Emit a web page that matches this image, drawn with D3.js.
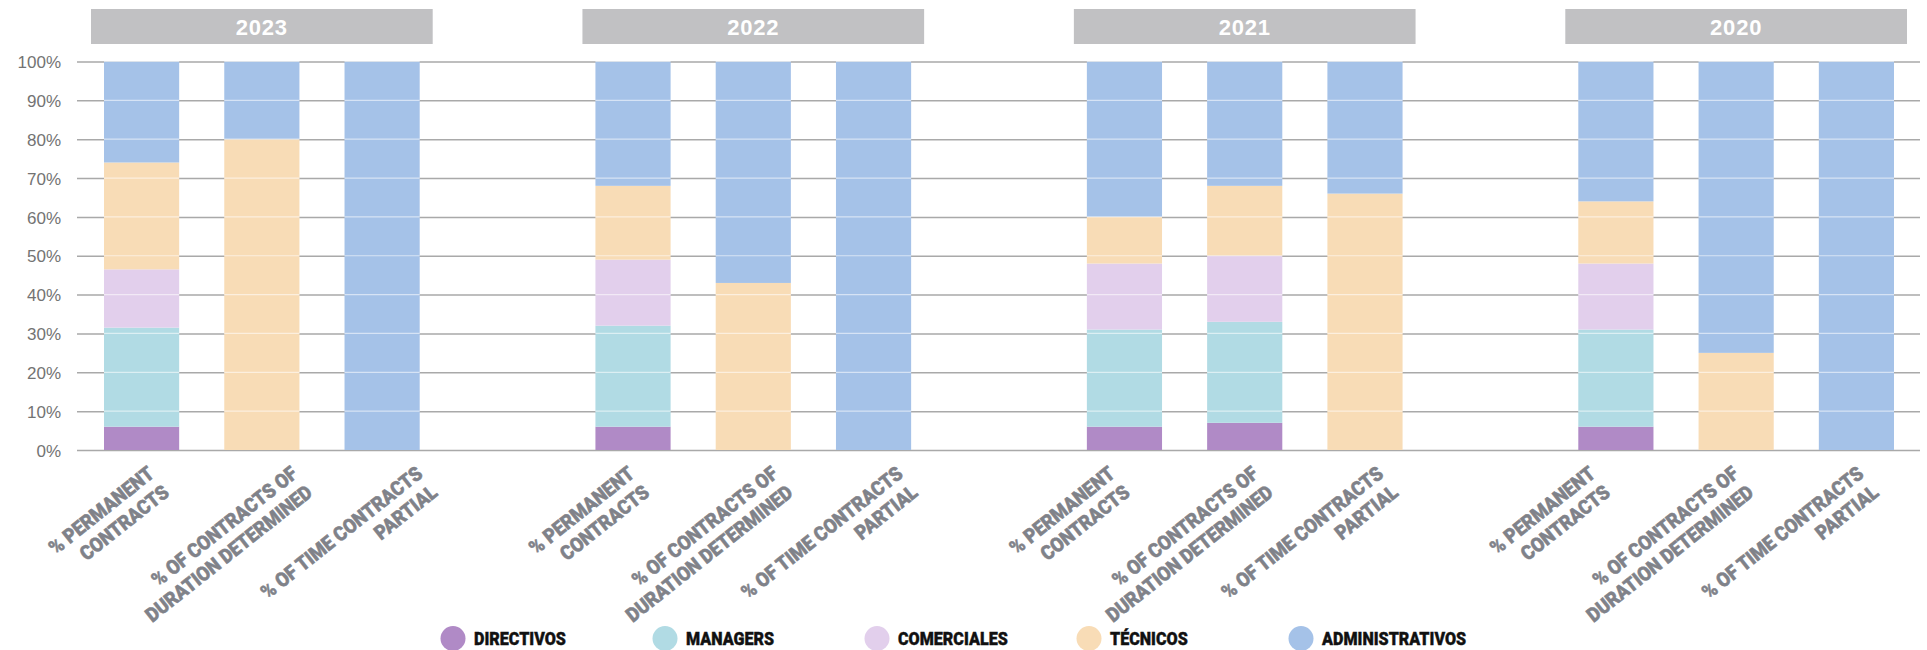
<!DOCTYPE html>
<html>
<head>
<meta charset="utf-8">
<script src="https://cdn.jsdelivr.net/npm/d3@7"></script>
<style>
  html, body { margin: 0; padding: 0; background: #ffffff; }
  svg { display: block; }
</style>
</head>
<body>
<svg id="chart" width="1927" height="650"></svg>
<script>
// ---- data -------------------------------------------------------------
const years = ["2023", "2022", "2021", "2020"];
const contractTypes = ["permanent", "fixedTerm", "partTime"];
const contractLabels = [
  ["% PERMANENT", "CONTRACTS"],
  ["% OF CONTRACTS OF", "DURATION DETERMINED"],
  ["% OF TIME CONTRACTS", "PARTIAL"]
];
const roles = ["DIRECTIVOS", "MANAGERS", "COMERCIALES", "TÉCNICOS", "ADMINISTRATIVOS"];

// share (%) of each role, year by year: permanent, fixed-term, part-time
const directivos      = [6,    0,  0,    6,  0,   0,    6,  7,  0,    6,  0,   0];
const managers        = [25.5, 0,  0,    26, 0,   0,    25, 26, 0,    25, 0,   0];
const comerciales     = [15,   0,  0,    17, 0,   0,    17, 17, 0,    17, 0,   0];
const tecnicos        = [27.5, 80, 0,    19, 43,  0,    12, 18, 66,   16, 25,  0];
const administrativos = [26,   20, 100,  32, 57,  100,  40, 32, 34,   36, 75,  100];

const yTicks = [0, 10, 20, 30, 40, 50, 60, 70, 80, 90, 100];

// ---- setup -------------------------------------------------------------
const seriesByRole = [directivos, managers, comerciales, tecnicos, administrativos];
const roleColors = ["#b08ac6", "#b1dbe4", "#e2cfec", "#f8dcb6", "#a5c2e8"];

const rows = [];
years.forEach((yr, yi) => {
  contractTypes.forEach((ct, ti) => {
    const row = { year: yr, type: ct };
    roles.forEach((r, ri) => { row[r] = seriesByRole[ri][yi * 3 + ti]; });
    rows.push(row);
  });
});

const svg = d3.select("#chart");
const gridLeft = 77, gridRight = 1920;

const x0 = d3.scaleBand()
  .domain(years)
  .range([104, 1894])
  .paddingInner(0.3576)
  .paddingOuter(0);

const x1 = d3.scaleBand()
  .domain(contractTypes)
  .range([0, x0.bandwidth()])
  .paddingInner(0.375)
  .paddingOuter(0);

// category labels sit on evenly spaced slots, one empty slot between years
const labelSlots = [];
years.forEach((yr, yi) => {
  contractTypes.forEach(ct => labelSlots.push(yr + "|" + ct));
  if (yi < years.length - 1) labelSlots.push(yr + "|gap");
});
const xLabel = d3.scalePoint()
  .domain(labelSlots)
  .range([141.5, 141.5 + (labelSlots.length - 1) * 120.1]);

const y = d3.scaleLinear().domain([0, 100]).range([450, 61.5]);

const color = d3.scaleOrdinal().domain(roles).range(roleColors);

// ---- grid + y axis -----------------------------------------------------
const yAxis = d3.axisLeft(y)
  .tickValues(yTicks)
  .tickSize(-(gridRight - gridLeft))
  .tickPadding(16)
  .tickFormat(d => d + "%");

const axisG = svg.append("g")
  .attr("transform", `translate(${gridLeft},0)`)
  .call(yAxis);
axisG.select(".domain").remove();
axisG.selectAll(".tick line")
  .attr("stroke", "#a9a9a9")
  .attr("stroke-width", 1.5);
axisG.selectAll(".tick text")
  .attr("fill", "#737373")
  .attr("font-family", "'Liberation Sans', Arial, sans-serif")
  .attr("font-size", 17)
  .attr("dy", "0.36em");

// ---- year headers ------------------------------------------------------
const headers = svg.append("g").selectAll("g")
  .data(years)
  .join("g");
headers.append("rect")
  .attr("x", d => x0(d) - 13)
  .attr("y", 9)
  .attr("width", x0.bandwidth() + 26)
  .attr("height", 35)
  .attr("fill", "#c1c1c3");
headers.append("text")
  .attr("x", d => x0(d) + x0.bandwidth() / 2)
  .attr("y", 35)
  .attr("text-anchor", "middle")
  .attr("fill", "#ffffff")
  .attr("font-family", "'Liberation Sans', Arial, sans-serif")
  .attr("font-weight", "bold")
  .attr("font-size", 22)
  .attr("letter-spacing", 0.8)
  .text(d => d);

// ---- stacked bars ------------------------------------------------------
const stacked = d3.stack().keys(roles)(rows);

svg.append("g").selectAll("g")
  .data(stacked)
  .join("g")
  .attr("fill", s => color(s.key))
  .selectAll("rect")
  .data(s => s.filter(d => d[1] - d[0] > 0))
  .join("rect")
  .attr("x", d => x0(d.data.year) + x1(d.data.type))
  .attr("y", d => y(d[1]))
  .attr("width", x1.bandwidth())
  .attr("height", d => y(d[0]) - y(d[1]));

// faint grid lines showing through the bars
const barGrid = svg.append("g")
  .attr("stroke", "#ffffff")
  .attr("stroke-opacity", 0.55)
  .attr("stroke-width", 1.2);
rows.forEach(r => {
  const bx = x0(r.year) + x1(r.type);
  barGrid.selectAll(null)
    .data(yTicks.filter(t => t > 0))
    .join("line")
    .attr("x1", bx)
    .attr("x2", bx + x1.bandwidth())
    .attr("y1", t => y(t))
    .attr("y2", t => y(t));
});

// ---- rotated category labels -------------------------------------------
const labelAngle = -38.4;
const labelFont = "Roboto, 'Liberation Sans', sans-serif";
const labelSize = 20;
const lineGap = 24;
const capHeight = 0.711 * labelSize;

// horizontal squeeze so the heavy face reads as a condensed one:
// the five longest label lines should span about 820px in total
const probe = svg.append("text")
  .attr("font-family", labelFont).attr("font-weight", 900)
  .attr("font-size", labelSize);
let probeTotal = 0;
[contractLabels[0][0], contractLabels[0][1], contractLabels[1][0],
 contractLabels[1][1], contractLabels[2][0]].forEach(s => {
  probe.text(s);
  probeTotal += probe.node().getComputedTextLength();
});
const labelSqueeze = Math.min(1, 820 / probeTotal);
probe.remove();

const rad = labelAngle * Math.PI / 180;
const rot = (px, py) => [px * Math.cos(rad) - py * Math.sin(rad),
                         px * Math.sin(rad) + py * Math.cos(rad)];

const labelLayer = svg.append("g");
rows.forEach(r => {
  const ti = contractTypes.indexOf(r.type);
  const tickX = xLabel(r.year + "|" + r.type);
  const g = labelLayer.append("g");
  const t = g.append("text")
    .attr("transform", `rotate(${labelAngle}) scale(${labelSqueeze},1)`)
    .attr("text-anchor", "end")
    .attr("fill", "#808289")
    .attr("stroke", "#808289")
    .attr("stroke-width", 0.5)
    .attr("font-family", labelFont)
    .attr("font-weight", 900)
    .attr("font-size", labelSize);

  // extent of the capital letters of every line once rotated
  let minX = Infinity, maxX = -Infinity, minY = Infinity;
  contractLabels[ti].forEach((line, li) => {
    const ts = t.append("tspan")
      .attr("x", 0)
      .attr("y", li * lineGap)
      .text(line);
    const len = ts.node().getComputedTextLength() * labelSqueeze;
    const base = li * lineGap;
    [[-len, base - capHeight], [0, base - capHeight], [-len, base], [0, base]]
      .forEach(([px, py]) => {
        const [qx, qy] = rot(px, py);
        minX = Math.min(minX, qx);
        maxX = Math.max(maxX, qx);
        minY = Math.min(minY, qy);
      });
  });
  g.attr("transform",
    `translate(${tickX - 33 - (minX + maxX) / 2},${465 - minY})`);
});

// ---- legend ------------------------------------------------------------
const legendX = d3.scalePoint().domain(roles).range([453, 1301]);
const legend = svg.append("g").selectAll("g")
  .data(roles)
  .join("g")
  .attr("transform", d => `translate(${legendX(d)},638.5)`);
legend.append("circle")
  .attr("r", 12.5)
  .attr("fill", d => color(d));

const legendSize = 18;
const legendProbe = svg.append("text")
  .attr("font-family", labelFont).attr("font-weight", 900)
  .attr("font-size", legendSize).text(roles[0]);
const legendSqueeze = Math.min(1, 92 / legendProbe.node().getComputedTextLength());
legendProbe.remove();

legend.append("text")
  .attr("transform", `translate(21,6) scale(${legendSqueeze},1)`)
  .attr("fill", "#111111")
  .attr("stroke", "#111111")
  .attr("stroke-width", 0.4)
  .attr("font-family", labelFont)
  .attr("font-weight", 900)
  .attr("font-size", legendSize)
  .text(d => d);
</script>
</body>
</html>
